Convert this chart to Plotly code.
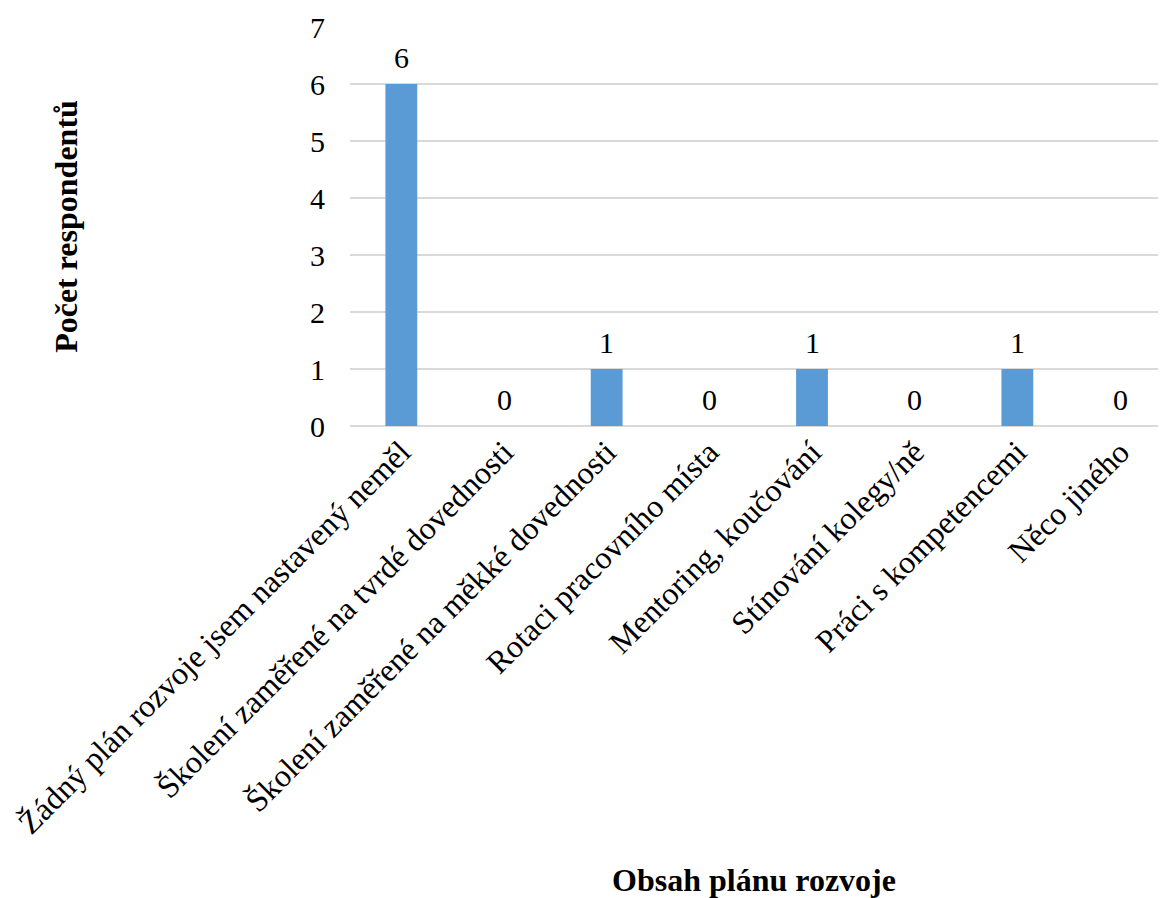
import plotly.graph_objects as go

categories = [
    "Žádný plán rozvoje jsem nastavený neměl",
    "Školení zaměřené na tvrdé dovednosti",
    "Školení zaměřené na měkké dovednosti",
    "Rotaci pracovního místa",
    "Mentoring, koučování",
    "Stínování kolegy/ně",
    "Práci s kompetencemi",
    "Něco jiného",
]
counts = [6, 0, 1, 0, 1, 0, 1, 0]
y_ticks = [0, 1, 2, 3, 4, 5, 6, 7]

FONT = "Liberation Serif, Times New Roman, serif"

fig = go.Figure(
    go.Bar(
        x=categories,
        y=counts,
        width=0.31,
        marker=dict(color="#5B9BD5", line=dict(width=0)),
        cliponaxis=False,
    )
)

# value labels above each bar
for cat, val in zip(categories, counts):
    fig.add_annotation(
        x=cat,
        y=val,
        text=str(val),
        showarrow=False,
        yanchor="bottom",
        yshift=9,
        borderpad=0,
        font=dict(family=FONT, size=30, color="#000000"),
    )

fig.update_layout(
    width=1160,
    height=898,
    margin=dict(l=350, r=2, t=27, b=472),
    paper_bgcolor="white",
    plot_bgcolor="white",
    font=dict(family=FONT, size=30, color="#000000"),
    showlegend=False,
    xaxis=dict(
        tickangle=-45,
        range=[-0.5, 7.37],
        showgrid=False,
        showline=False,
        ticks="",
        tickfont=dict(family=FONT, size=32),
        title=dict(
            text="<b>Obsah plánu rozvoje</b>",
            font=dict(family=FONT, size=32),
            standoff=28,
        ),
    ),
    yaxis=dict(
        range=[0, 7],
        tickvals=y_ticks,
        showgrid=True,
        gridcolor="#D9D9D9",
        gridwidth=1.5,
        zeroline=True,
        zerolinecolor="#D9D9D9",
        zerolinewidth=1.5,
        showline=False,
        ticks="",
        ticklabelstandoff=24,
        tickfont=dict(family=FONT, size=30),
        title=dict(
            text="<b>Počet respondentů</b>",
            font=dict(family=FONT, size=32),
            standoff=222,
        ),
    ),
)

fig.write_html("out.html")
